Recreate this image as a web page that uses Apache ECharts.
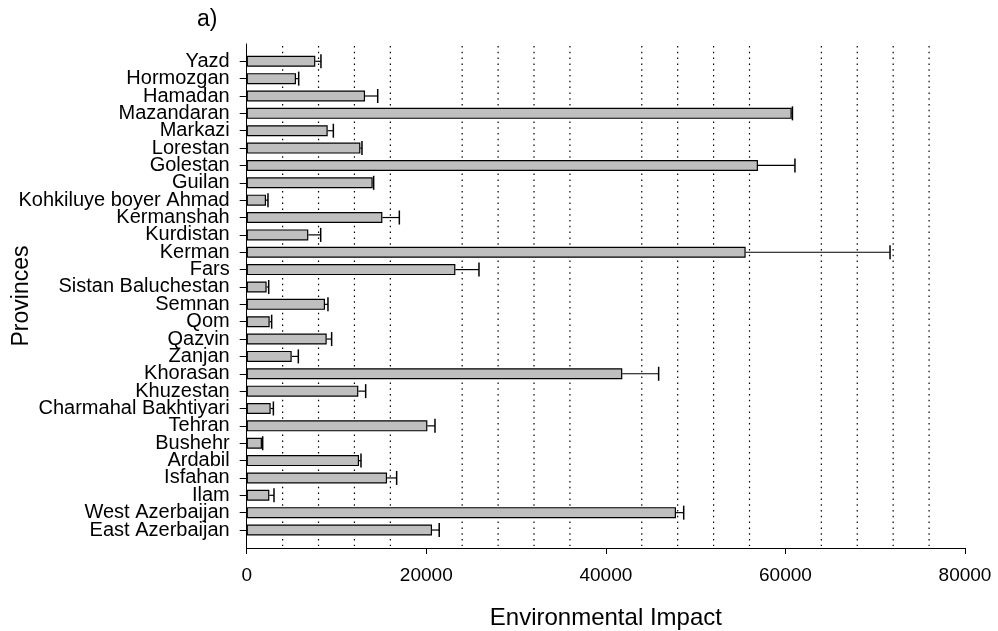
<!DOCTYPE html>
<html>
<head>
<meta charset="utf-8">
<script src="https://cdn.jsdelivr.net/npm/echarts/dist/echarts.min.js"></script>
<style>
  html, body { margin: 0; padding: 0; background: #fff; }
  #chart { width: 998px; height: 631px; }
</style>
</head>
<body>
<div id="chart"></div>
<script>
// provinces, top to bottom as drawn
const provinces = [
  "Yazd", "Hormozgan", "Hamadan", "Mazandaran", "Markazi", "Lorestan",
  "Golestan", "Guilan", "Kohkiluye boyer Ahmad", "Kermanshah", "Kurdistan",
  "Kerman", "Fars", "Sistan Baluchestan", "Semnan", "Qom", "Qazvin", "Zanjan",
  "Khorasan", "Khuzestan", "Charmahal Bakhtiyari", "Tehran", "Bushehr",
  "Ardabil", "Isfahan", "Ilam", "West Azerbaijan", "East Azerbaijan"
];
// mean environmental impact
const impact = [
  7640, 5490, 13180, 60700, 9020, 12660,
  56940, 14030, 2150, 15110, 6860,
  55570, 23240, 2220, 8720, 2560, 8910, 5010,
  41830, 12430, 2670, 20120, 1700,
  12510, 15630, 2520, 47810, 20640
];
// upper error (added to the mean)
const impactErr = [
  630, 300, 1410, 80, 630, 180,
  4120, 110, 220, 1890, 1380,
  16080, 2630, 230, 330, 220, 550, 740,
  4050, 820, 300, 850, 80,
  220, 1070, 520, 860, 800
];
// dotted reference lines
const gridLines = [4000, 8000, 12000, 16000, 24000, 28000, 32000, 36000,
  44000, 48000, 52000, 56000, 64000, 68000, 72000, 76000];

const FONT = "'Liberation Sans', Arial, sans-serif";
const chart = echarts.init(document.getElementById("chart"), null, { renderer: "canvas" });

const option = {
  animation: false,
  backgroundColor: "#fff",
  title: {
    text: "a)",
    left: 192,
    top: 3,
    textStyle: { fontFamily: FONT, fontSize: 23, fontWeight: "normal", color: "#000" },
  },
  grid: [
    // bars
    { left: 246.7, right: 33, top: 52.6, height: 486.1, containLabel: false, outerBoundsMode: "none" },
    // axes frame
    { left: 246.7, right: 33, top: 44, bottom: 83, containLabel: false, outerBoundsMode: "none" },
  ],
  xAxis: [
    { gridIndex: 0, type: "value", min: 0, max: 80000, show: false },
    {
      gridIndex: 1,
      type: "value",
      min: 0,
      max: 80000,
      interval: 20000,
      axisLine: { lineStyle: { color: "#000", width: 1 } },
      axisTick: { length: 6, lineStyle: { color: "#000" } },
      axisLabel: {
        fontFamily: FONT, fontSize: 19, color: "#000", margin: 18,
        formatter: (v) => String(v),
      },
      splitLine: { show: false },
      name: "Environmental Impact",
      nameLocation: "middle",
      nameGap: 58,
      nameTextStyle: { fontFamily: FONT, fontSize: 24, color: "#000" },
    },
  ],
  yAxis: [
    {
      gridIndex: 0,
      type: "category",
      inverse: true,
      data: provinces,
      axisLine: { show: false },
      axisTick: { show: true, interval: 0, alignWithLabel: true, length: 7, lineStyle: { color: "#000" } },
      axisLabel: { interval: 0, fontFamily: FONT, fontSize: 20, color: "#000", margin: 17 },
    },
    {
      gridIndex: 1,
      type: "value",
      min: 0,
      max: 1,
      axisLine: { show: true, lineStyle: { color: "#000", width: 1 } },
      axisTick: { show: false },
      axisLabel: { show: false },
      splitLine: { show: false },
      name: "Provinces",
      nameLocation: "middle",
      nameGap: 214,
      nameTextStyle: { fontFamily: FONT, fontSize: 23, color: "#000" },
    },
  ],
  series: [
    {
      type: "custom",
      xAxisIndex: 1,
      yAxisIndex: 1,
      z: 1,
      silent: true,
      data: gridLines.map((v) => [v]),
      encode: { x: 0 },
      renderItem: (params, api) => {
        const v = api.value(0);
        const top = api.coord([v, 1]);
        const bottom = api.coord([v, 0]);
        return {
          type: "line",
          shape: { x1: top[0], y1: top[1] + 2, x2: bottom[0], y2: bottom[1] - 2 },
          style: { stroke: "#000", lineWidth: 1.2, lineDash: [1.5, 4.3] },
        };
      },
    },
    {
      type: "bar",
      xAxisIndex: 0,
      yAxisIndex: 0,
      z: 3,
      data: impact,
      barWidth: 11,
      itemStyle: { color: "#bfbfbf", borderColor: "#000", borderWidth: 1.2 },
    },
    {
      type: "custom",
      xAxisIndex: 0,
      yAxisIndex: 0,
      z: 4,
      data: impact.map((m, i) => [i, m, impactErr[i]]),
      encode: { x: [1, 2], y: 0 },
      renderItem: (params, api) => {
        const cat = api.value(0);
        const mean = api.value(1);
        const err = api.value(2);
        const a = api.coord([mean, cat]);
        const b = api.coord([mean + err, cat]);
        return {
          type: "group",
          children: [
            {
              type: "line",
              shape: { x1: a[0], y1: a[1], x2: b[0], y2: b[1] },
              style: { stroke: "#000", lineWidth: 1.2 },
            },
            {
              type: "line",
              shape: { x1: b[0], y1: b[1] - 7, x2: b[0], y2: b[1] + 7 },
              style: { stroke: "#000", lineWidth: 1.5 },
            },
          ],
        };
      },
    },
  ],
};

chart.setOption(option);
</script>
</body>
</html>
